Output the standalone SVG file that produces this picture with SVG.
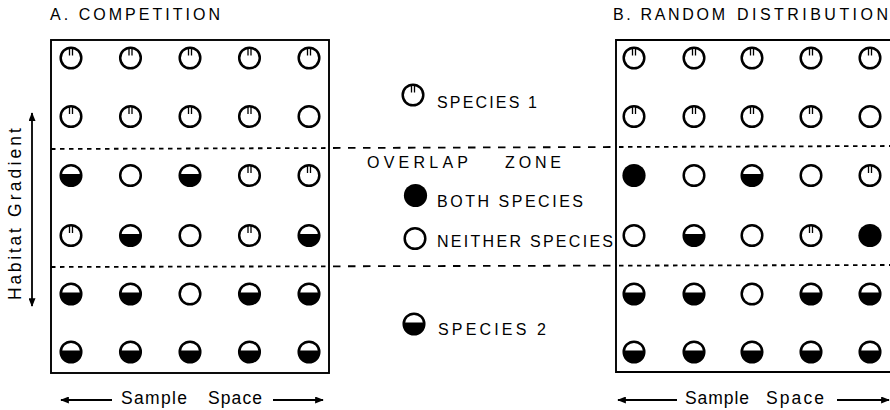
<svg xmlns="http://www.w3.org/2000/svg" xmlns:xlink="http://www.w3.org/1999/xlink" width="890" height="410" viewBox="0 0 890 410">
<style>
  .t{font-family:"Liberation Sans",Arial,Helvetica,sans-serif;fill:#000}
  .title{font-size:16px}
  .leg{font-size:16px}
  .ax{font-size:17.5px}
  .box{fill:none;stroke:#000;stroke-width:1.9}
  .dS{stroke:#000;stroke-width:1.8;stroke-dasharray:4.5 4.5;fill:none}
  .dL{stroke:#000;stroke-width:1.8;stroke-dasharray:7.5 7.5;fill:none}
  .arr{stroke:#000;stroke-width:1.8;fill:none}
</style>
<defs>
  <g id="s1">
    <circle r="10.3" fill="#fff" stroke="#000" stroke-width="2.5"/>
    <path d="M-1.5,-10V-2.5M1.5,-10V-2.5" stroke="#000" stroke-width="1.3"/>
  </g>
  <g id="s2">
    <circle r="10.3" fill="#fff" stroke="#000" stroke-width="2.5"/>
    <path d="M-10.2,-1.5A10.3,10.3 0 1 0 10.2,-1.5Z" fill="#000"/>
  </g>
  <g id="nb">
    <circle r="10.3" fill="#fff" stroke="#000" stroke-width="2.5"/>
  </g>
  <g id="bo">
    <circle r="11.6" fill="#000"/>
  </g>
  <marker id="ah" viewBox="0 0 10 8" refX="9" refY="4" markerWidth="10" markerHeight="7" markerUnits="userSpaceOnUse" orient="auto-start-reverse">
    <path d="M0,0L10,4L0,8Z" fill="#000"/>
  </marker>
</defs>

<g id="titles">
  <text class="t title" x="50" y="20" textLength="170" lengthAdjust="spacing">A. COMPETITION</text>
  <text class="t title" x="613" y="20" textLength="112" lengthAdjust="spacing">B. RANDOM</text>
  <text class="t title" x="737" y="20" textLength="151" lengthAdjust="spacing">DISTRIBUTION</text>
</g>

<g id="zone-lines">
  <line class="dS" x1="51" y1="149" x2="329" y2="148"/>
  <line class="dL" x1="333" y1="148" x2="616" y2="147"/>
  <line class="dS" x1="619" y1="147" x2="890" y2="146"/>
  <line class="dS" x1="51" y1="267" x2="329" y2="266.3"/>
  <line class="dL" x1="333" y1="266.3" x2="616" y2="265.6"/>
  <line class="dS" x1="619" y1="265.6" x2="890" y2="265"/>
</g>

<g id="panel-a">
  <rect class="box" x="51" y="40" width="278" height="333"/>
  <use href="#s1" x="71" y="58"/><use href="#s1" x="130.5" y="58"/><use href="#s1" x="190" y="58"/><use href="#s1" x="249.5" y="58"/><use href="#s1" x="309" y="58"/>
  <use href="#s1" x="71" y="116.5"/><use href="#s1" x="130.5" y="116.5"/><use href="#s1" x="190" y="116.5"/><use href="#s1" x="249.5" y="116.5"/><use href="#nb" x="309" y="116.5"/>
  <use href="#s2" x="71" y="175.5"/><use href="#nb" x="130.5" y="175.5"/><use href="#s2" x="190" y="175.5"/><use href="#s1" x="249.5" y="175.5"/><use href="#s1" x="309" y="175.5"/>
  <use href="#s1" x="71" y="235.5"/><use href="#s2" x="130.5" y="235.5"/><use href="#nb" x="190" y="235.5"/><use href="#s1" x="249.5" y="235.5"/><use href="#s2" x="309" y="235.5"/>
  <use href="#s2" x="71" y="294"/><use href="#s2" x="130.5" y="294"/><use href="#nb" x="190" y="294"/><use href="#s2" x="249.5" y="294"/><use href="#s2" x="309" y="294"/>
  <use href="#s2" x="71" y="352"/><use href="#s2" x="130.5" y="352"/><use href="#s2" x="190" y="352"/><use href="#s2" x="249.5" y="352"/><use href="#s2" x="309" y="352"/>
</g>

<g id="panel-b">
  <path class="box" d="M892,40H616V372H892"/>
  <use href="#s1" x="634" y="58"/><use href="#s1" x="694" y="58"/><use href="#s1" x="752" y="58"/><use href="#s1" x="811" y="58"/><use href="#s1" x="870" y="58"/>
  <use href="#s1" x="634" y="116.5"/><use href="#s1" x="694" y="116.5"/><use href="#s1" x="752" y="116.5"/><use href="#s1" x="811" y="116.5"/><use href="#nb" x="870" y="116.5"/>
  <use href="#bo" x="634" y="175.5"/><use href="#nb" x="694" y="175.5"/><use href="#s2" x="752" y="175.5"/><use href="#nb" x="811" y="175.5"/><use href="#s1" x="870" y="175.5"/>
  <use href="#nb" x="634" y="235.5"/><use href="#s2" x="694" y="235.5"/><use href="#nb" x="752" y="235.5"/><use href="#s1" x="811" y="235.5"/><use href="#bo" x="870" y="235.5"/>
  <use href="#s2" x="634" y="294"/><use href="#s2" x="694" y="294"/><use href="#nb" x="752" y="294"/><use href="#s2" x="811" y="294"/><use href="#s2" x="870" y="294"/>
  <use href="#s2" x="634" y="352"/><use href="#s2" x="694" y="352"/><use href="#s2" x="752" y="352"/><use href="#s2" x="811" y="352"/><use href="#s2" x="870" y="352"/>
</g>

<g id="legend-species1">
  <use href="#s1" x="413" y="95"/>
  <text class="t leg" x="437" y="108" textLength="100" lengthAdjust="spacing">SPECIES 1</text>
</g>
<g id="legend-overlap">
  <text class="t leg" x="367" y="167.5" textLength="101" lengthAdjust="spacing">OVERLAP</text>
  <text class="t leg" x="505" y="167.5" textLength="56" lengthAdjust="spacing">ZONE</text>
</g>
<g id="legend-both">
  <use href="#bo" x="415.5" y="195.5"/>
  <text class="t leg" x="437" y="207" textLength="146" lengthAdjust="spacing">BOTH SPECIES</text>
</g>
<g id="legend-neither">
  <use href="#nb" x="415" y="238.5"/>
  <text class="t leg" x="437" y="247" textLength="176" lengthAdjust="spacing">NEITHER SPECIES</text>
</g>
<g id="legend-species2">
  <use href="#s2" x="414" y="324"/>
  <text class="t leg" x="438" y="335" textLength="108" lengthAdjust="spacing">SPECIES 2</text>
</g>

<g id="axis-labels">
  <text class="t ax" transform="translate(21,300) rotate(-90)" textLength="72" lengthAdjust="spacing">Habitat</text>
  <text class="t ax" transform="translate(21,217) rotate(-90)" textLength="89" lengthAdjust="spacing">Gradient</text>
  <text class="t ax" x="121" y="404" textLength="66" lengthAdjust="spacing">Sample</text>
  <text class="t ax" x="208" y="404" textLength="54" lengthAdjust="spacing">Space</text>
  <text class="t ax" x="685" y="403.5" textLength="64" lengthAdjust="spacing">Sample</text>
  <text class="t ax" x="766" y="403.5" textLength="58" lengthAdjust="spacing">Space</text>
</g>

<g id="connectors">
  <line class="arr" x1="32" y1="113" x2="32" y2="306" marker-start="url(#ah)" marker-end="url(#ah)"/>
  <line class="arr" x1="112" y1="400" x2="61" y2="400" marker-end="url(#ah)"/>
  <line class="arr" x1="273" y1="400" x2="323" y2="400" marker-end="url(#ah)"/>
  <line class="arr" x1="677" y1="400" x2="618" y2="400" marker-end="url(#ah)"/>
  <line class="arr" x1="837" y1="400" x2="889" y2="400" marker-end="url(#ah)"/>
</g>
</svg>
